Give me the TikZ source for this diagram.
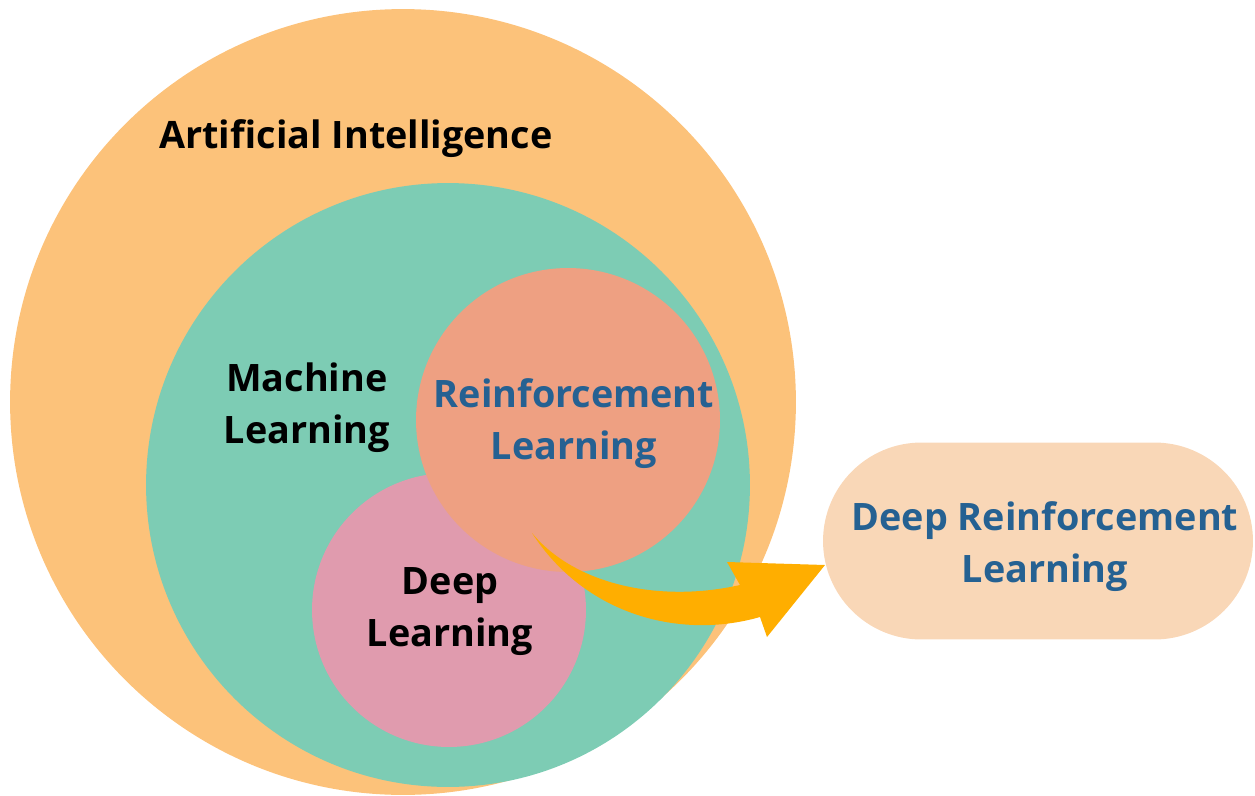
\documentclass[tikz,border=0pt]{standalone}
\usepackage{fontspec}
\setmainfont{Open Sans}
\definecolor{aiorange}{HTML}{FCC27A}
\definecolor{mlteal}{HTML}{7DCCB4}
\definecolor{rlsalmon}{HTML}{EEA082}
\definecolor{dlpink}{HTML}{E09BAE}
\definecolor{drlpeach}{HTML}{F9D7B7}
\definecolor{arroworange}{HTML}{FFAE00}
\definecolor{labelblue}{HTML}{256192}
\tikzset{
  disc/.style={circle, inner sep=0pt, draw=none},
  lbl/.style={font=\bfseries\fontsize{21.5}{29.6}\selectfont, align=center, text=black, inner sep=0pt},
  bluelbl/.style={lbl, text=labelblue},
}
\begin{document}
\begin{tikzpicture}[x=0.02cm, y=-0.02cm]
\useasboundingbox (0,0) rectangle (1255,795);
\node[disc, fill=aiorange, minimum size=15.72cm] (ai) at (403,402) {};
\node[disc, fill=mlteal, minimum size=12.08cm] (ml) at (448,485) {};
\node[disc, fill=dlpink, minimum size=5.48cm] (dl) at (449,610) {};
\node[disc, fill=rlsalmon, minimum size=6.08cm] (rl) at (568,420) {};
\node[fill=drlpeach, rounded corners=1.97cm, minimum width=8.6cm, minimum height=3.94cm, inner sep=0pt] (drl) at (1038,541) {};

\node[lbl] (ailbl) at (356,139) {Artificial Intelligence};
\node[lbl] (mllbl) at (307,408) {Machine\\Learning};
\node[bluelbl] (rllbl) at (574,424) {Reinforcement\\Learning};
\node[lbl] (dllbl) at (450,612) {Deep\\Learning};
\node[bluelbl] (drllbl) at (1045,547) {Deep Reinforcement\\Learning};

\coordinate (tail) at (532,533);
\coordinate (tip) at (825,565);
\fill[arroworange] (tail) .. controls (575,585) and (660,603) .. (740,585)
  -- (727,562) -- (tip) -- (767,637) -- (760,617)
  .. controls (680,640) and (585,615) .. (tail) -- cycle;
\end{tikzpicture}
\end{document}
